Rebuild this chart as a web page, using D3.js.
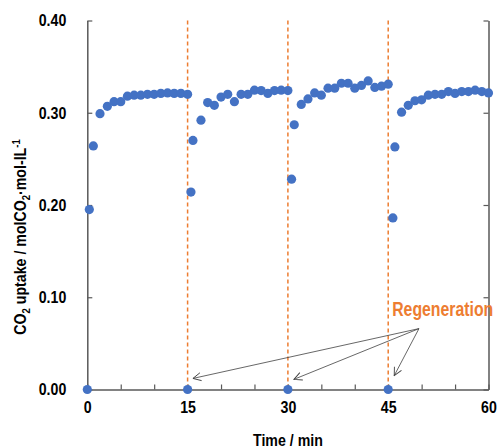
<!DOCTYPE html>
<html>
<head>
<meta charset="utf-8">
<script src="https://cdn.jsdelivr.net/npm/d3@7"></script>
<style>
  body { margin: 0; background: #fff; }
  svg { display: block; font-family: "Liberation Sans", Arial, sans-serif; }
</style>
</head>
<body>
<div id="chart"></div>
<script>
// 데이터
const timeMin = [
  0, 0.3, 0.9, 1.9, 3, 4, 5, 6, 7, 8, 9, 10, 11, 12, 13, 14, 15,
  15, 15.5, 15.8, 17, 18, 19, 20, 21, 22, 23, 24, 25, 26, 27, 28, 29, 30,
  30, 30.55, 30.95, 32, 33, 34, 35, 36, 37, 38, 39, 40, 41, 42, 43, 44, 45,
  45, 45.7, 46, 47, 48, 49, 50, 51, 52, 53, 54, 55, 56, 57, 58, 59, 60
];
const uptake = [
  0, 0.195, 0.264, 0.299, 0.307, 0.312, 0.312, 0.318, 0.319, 0.319, 0.320, 0.320, 0.321, 0.3215, 0.321, 0.321, 0.320,
  0, 0.214, 0.270, 0.292, 0.311, 0.308, 0.317, 0.320, 0.312, 0.320, 0.320, 0.3245, 0.324, 0.321, 0.324, 0.3245, 0.324,
  0, 0.228, 0.287, 0.309, 0.315, 0.3215, 0.319, 0.3266, 0.3266, 0.332, 0.332, 0.3266, 0.3296, 0.3345, 0.3274, 0.3288, 0.331,
  0, 0.186, 0.263, 0.3006, 0.308, 0.313, 0.314, 0.319, 0.320, 0.320, 0.323, 0.321, 0.323, 0.323, 0.3245, 0.323, 0.3215
];
const regenTimes = [15, 30, 45];
const xTicks = [0, 5, 10, 15, 20, 25, 30, 35, 40, 45, 50, 55, 60];
const xLabels = [0, 15, 30, 45, 60];
const yTicks = [0, 0.1, 0.2, 0.3, 0.4];
const annotText = "Regeneration";
const annotFrom = [49.6, 0.066];
const annotTo = [[15.8, 0.012], [30.9, 0.011], [45.9, 0.015]];

const data = timeMin.map((t, i) => ({ t: t, v: uptake[i] }));

// 좁은 글꼴 흉내 (가로 축소)
const SX = 0.86;
const FS = "16.5px";

// 영역 설정
const W = 497, H = 447;
const margin = { top: 20.5, right: 8.5, bottom: 57.5, left: 87.3 };
const width = W - margin.left - margin.right;
const height = H - margin.top - margin.bottom;

const svg = d3.select("#chart").append("svg")
  .attr("width", W).attr("height", H);

const defs = svg.append("defs");
defs.append("marker")
  .attr("id", "arr")
  .attr("viewBox", "0 0 10 10")
  .attr("refX", 9).attr("refY", 5)
  .attr("markerWidth", 10).attr("markerHeight", 10)
  .attr("markerUnits", "userSpaceOnUse")
  .attr("orient", "auto")
  .append("path")
  .attr("d", "M1,1 L9,5 L1,9")
  .attr("fill", "none")
  .attr("stroke", "#404040")
  .attr("stroke-width", 0.9);

const g = svg.append("g")
  .attr("transform", `translate(${margin.left},${margin.top})`);

// 스케일
const x = d3.scaleLinear().domain([0, 60]).range([0, width]);
const y = d3.scaleLinear().domain([0, 0.4]).range([height, 0]);

const axisColor = "#595959";

// 재생 점선
g.selectAll("line.regen")
  .data(regenTimes)
  .enter().append("line")
  .attr("class", "regen")
  .attr("x1", d => x(d)).attr("x2", d => x(d))
  .attr("y1", y(0.4)).attr("y2", y(0))
  .attr("stroke", "#ED7D31")
  .attr("stroke-width", 1.5)
  .attr("stroke-dasharray", "4,3");

// x축
const xAxis = g.append("g")
  .attr("transform", `translate(0,${height})`)
  .call(d3.axisBottom(x)
    .tickValues(xTicks)
    .tickSizeInner(-5).tickSizeOuter(0)
    .tickPadding(12)
    .tickFormat(d => xLabels.includes(d) ? d : ""));

// y축 (왼쪽)
const yAxis = g.append("g")
  .call(d3.axisLeft(y)
    .tickValues(yTicks)
    .tickSizeInner(-5).tickSizeOuter(0)
    .tickPadding(21)
    .tickFormat(d3.format(".2f")));

// y축 (오른쪽, 라벨 없음)
const yAxisR = g.append("g")
  .attr("transform", `translate(${width},0)`)
  .call(d3.axisRight(y)
    .tickValues(yTicks)
    .tickSizeInner(-5).tickSizeOuter(0)
    .tickFormat(""));

[xAxis, yAxis, yAxisR].forEach(a => {
  a.select(".domain").attr("stroke", axisColor).attr("stroke-width", 1.5);
  a.selectAll(".tick line").attr("stroke", axisColor).attr("stroke-width", 1.2);
  a.selectAll("text")
    .attr("fill", "#000")
    .style("font-size", FS)
    .style("font-weight", "bold");
});
// 눈금 글자 가로 축소
yAxis.selectAll(".tick text")
  .attr("x", -21 / SX)
  .attr("transform", `scale(${SX},1)`);
xAxis.selectAll(".tick text")
  .attr("transform", `scale(${SX},1)`);

// 데이터 점
g.selectAll("circle.pt")
  .data(data)
  .enter().append("circle")
  .attr("class", "pt")
  .attr("cx", d => x(d.t))
  .attr("cy", d => y(d.v))
  .attr("r", 4.6)
  .attr("fill", "#4472C4");

// 주석 화살표
g.selectAll("line.arrow")
  .data(annotTo)
  .enter().append("line")
  .attr("class", "arrow")
  .attr("x1", x(annotFrom[0])).attr("y1", y(annotFrom[1]))
  .attr("x2", d => x(d[0])).attr("y2", d => y(d[1]))
  .attr("stroke", "#404040")
  .attr("stroke-width", 0.8)
  .attr("marker-end", "url(#arr)");

g.append("text")
  .attr("x", x(45.6))
  .attr("y", y(0.080))
  .attr("textLength", 101)
  .attr("lengthAdjust", "spacingAndGlyphs")
  .attr("fill", "#ED7D31")
  .style("font-size", "20px")
  .style("font-weight", "bold")
  .text(annotText);

// 축 제목
svg.append("text")
  .attr("transform", `translate(${margin.left + width / 2},446) scale(${SX},1)`)
  .attr("text-anchor", "middle")
  .style("font-size", FS)
  .style("font-weight", "bold")
  .text("Time / min");

const yl = svg.append("text")
  .attr("transform", `translate(26,237) rotate(-90) scale(${SX},1)`)
  .attr("text-anchor", "middle")
  .style("font-size", FS)
  .style("font-weight", "bold");
yl.append("tspan").text("CO");
yl.append("tspan").attr("dy", 4).style("font-size", "11px").text("2");
yl.append("tspan").attr("dy", -4).text(" uptake / molCO");
yl.append("tspan").attr("dy", 4).style("font-size", "11px").text("2");
yl.append("tspan").attr("dy", -4).text("·mol-IL");
yl.append("tspan").attr("dy", -6).style("font-size", "11px").text("-1");
</script>
</body>
</html>
